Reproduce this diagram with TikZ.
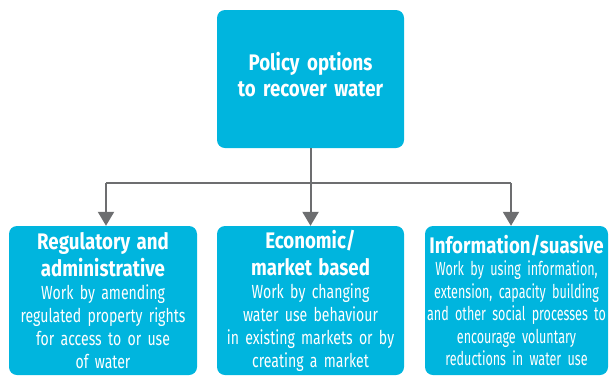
\documentclass[tikz,border=0pt]{standalone}
\usepackage{fontspec}
\setmainfont{Fira Sans}[FakeStretch=0.74, WordSpace=0.7, BoldFeatures={FakeStretch=0.83}]
\newfontfamily\narrowfont{Fira Sans}[FakeStretch=0.66, WordSpace=0.6]
\usetikzlibrary{arrows.meta}
\definecolor{boxcyan}{HTML}{00B5DE}
\definecolor{linegrey}{HTML}{6D6E70}
\hyphenpenalty=10000
\exhyphenpenalty=10000

\begin{document}
\begin{tikzpicture}[x=1pt,y=1pt,
    optbox/.style={fill=boxcyan, rounded corners=8pt, text=white, align=center,
        inner sep=0pt, font=\fontsize{19}{22.5}\selectfont},
    link/.style={draw=linegrey, line width=2pt},
    linkarrow/.style={link, -{Triangle[width=16pt,length=14pt]}}]
\useasboundingbox (0,0) rectangle (609,-376);

% top box
\node[optbox, text width=187pt, minimum height=138pt,
      font=\bfseries\fontsize{22.5}{26}\selectfont] (policy) at (310.5,-79)
    {Policy options\\to recover water\par\vspace{8pt}};

% the three kinds of option
\node[optbox, text width=188pt, minimum height=149pt] (regul) at (103,-300.5)
    {\bfseries\fontsize{22.5}{27}\selectfont Regulatory and\\administrative\par
     \mdseries\fontsize{19}{23}\selectfont Work by amending\\regulated property rights\\for access to or use\\of water\par};
\node[optbox, text width=187pt, minimum height=149pt] (econ) at (310.5,-300.5)
    {\bfseries\fontsize{22.5}{27}\selectfont Economic/\\market based\par
     \mdseries\fontsize{19}{23}\selectfont Work by changing\\water use behaviour\\in existing markets or by\\creating a market\par};
\node[optbox, text width=183pt, minimum height=149pt] (info) at (516.5,-300.5)
    {\bfseries\fontsize{22.5}{26}\selectfont Information/suasive\par
     \narrowfont\mdseries\fontsize{19}{22.5}\selectfont Work by using information,\\extension, capacity building\\and other social processes to\\encourage voluntary\\reductions in water use\par};

% connectors
\coordinate (split) at (310.5,-183);
\coordinate (splitl) at (106,-183);
\coordinate (splitr) at (511,-183);
\draw[link] (policy.south) -- (split);
\draw[link] (splitl) -- (splitr);
\draw[linkarrow] (splitl) -- (splitl |- regul.north);
\draw[linkarrow] (split) -- (econ.north);
\draw[linkarrow] (splitr) -- (splitr |- info.north);
\end{tikzpicture}
\end{document}
